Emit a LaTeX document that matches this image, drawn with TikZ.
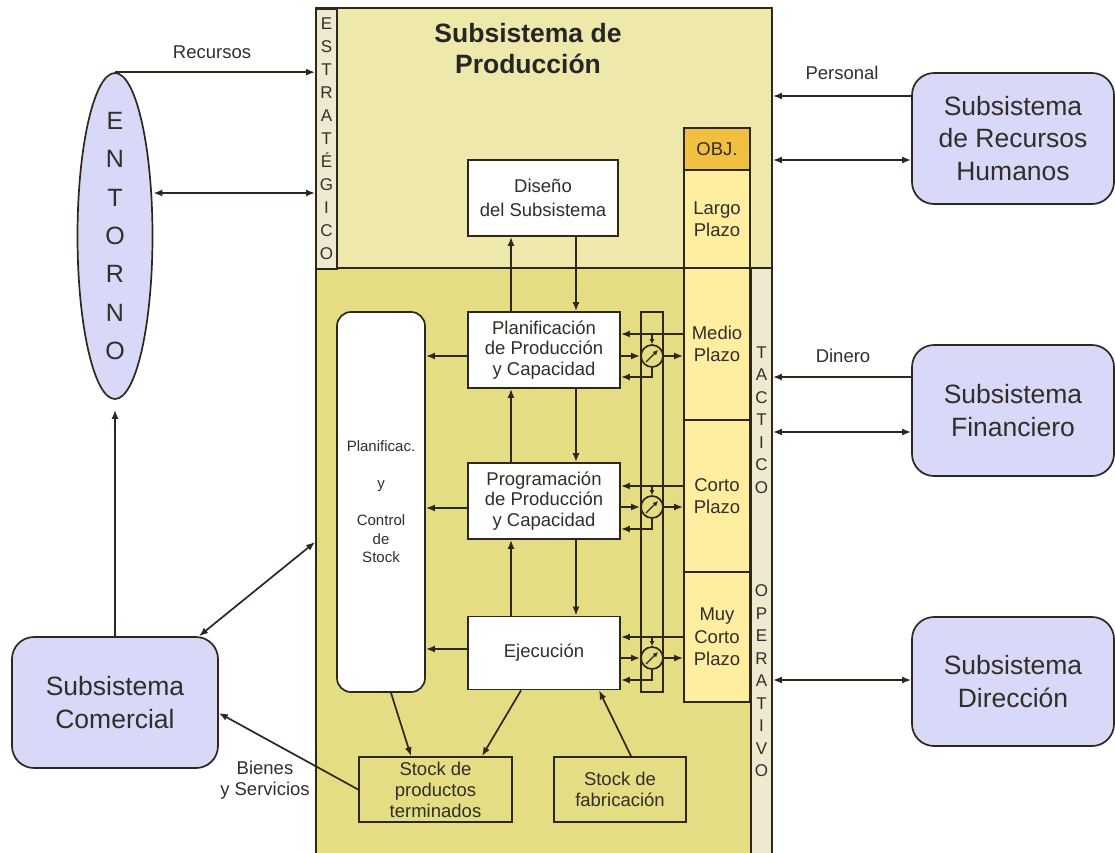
\documentclass[tikz,border=0pt]{standalone}
\usepackage{fontspec}
\setmainfont{Liberation Sans}
\usepackage{xcolor}
\usetikzlibrary{positioning, arrows.meta, shapes.geometric}

\definecolor{ink}{RGB}{45,40,28}
\definecolor{txt}{RGB}{50,46,40}
\definecolor{lav}{RGB}{216,216,248}
\definecolor{zonaalta}{RGB}{238,232,170}
\definecolor{zonabaja}{RGB}{229,221,131}
\definecolor{franja}{RGB}{238,234,210}
\definecolor{plazo}{RGB}{255,238,160}
\definecolor{objetivo}{RGB}{242,192,64}

\newcommand{\fmed}{\fontsize{18.5}{20.5}\selectfont}
\newcommand{\fplazo}{\fontsize{18.5}{22.5}\selectfont}
\newcommand{\fstock}{\fontsize{18.5}{21}\selectfont}
\newcommand{\fbig}{\fontsize{26.5}{32.5}\selectfont}
\newcommand{\fletra}{\fontsize{17}{23}\selectfont}
\newcommand{\fchico}{\fontsize{15}{18.5}\selectfont}
\newcommand{\ftitulo}{\fontsize{26.5}{31}\selectfont\bfseries}

\begin{document}
\begin{tikzpicture}[
  x=1pt, y=-1pt,
  > = {Latex[length=9pt, width=7pt]},
  line width=1.7pt,
  color=ink, text=txt,
  region/.style={draw, line width=1.8pt, inner sep=0pt},
  strip/.style={draw, fill=franja, minimum width=21, inner sep=0pt,
                align=center, font=\fletra},
  caja/.style={draw, fill=white, minimum width=152, minimum height=76,
               align=center, font=\fmed},
  stkbox/.style={draw, fill=white, rounded corners=14pt, minimum width=88,
                 minimum height=380, align=center, font=\fchico},
  plazobox/.style={draw, fill=plazo, minimum width=66, inner sep=0pt,
                   align=center, font=\fplazo},
  stockbox/.style={draw, minimum height=65, inner sep=2pt,
                   align=center, font=\fstock},
  subsis/.style={draw, fill=lav, rounded corners=22pt, minimum width=202,
                 minimum height=131, align=center, font=\fbig},
  meter/.style={draw, circle, fill=zonabaja, minimum size=22, inner sep=0pt},
  lbl/.style={font=\fmed, align=center},
  arr/.style={->},
  darr/.style={<->},
  tip/.style={-{Latex[length=5pt, width=5pt]}, line width=1.3pt}
]
  \useasboundingbox (0,0) rectangle (1115,852);

  % --- Subsistema de Produccion (zones and side strips) ---
  \node[region, fill=zonaalta, minimum width=456, minimum height=260] (sup) at (544,138) {};
  \node[region, fill=zonabaja, minimum width=456, minimum height=590] (low) at (544,563) {};
  \node[strip, minimum height=260] (est) at (326.5,139) {E\\S\\T\\R\\A\\T\\É\\G\\I\\C\\O};
  \node[strip, minimum height=590] (tac) at (761.5,563) {};
  \node[font=\fontsize{17}{22.5}\selectfont, align=center] (tactico) at (761.5,420) {T\\A\\C\\T\\I\\C\\O};
  \node[font=\fontsize{17}{22.5}\selectfont, align=center] (operativo) at (761.5,681) {O\\P\\E\\R\\A\\T\\I\\V\\O};
  \node[font=\ftitulo, align=center, text=black!85] (tit) at (528,49) {Subsistema de\\Producción};

  % --- horizon column ---
  \node[plazobox, fill=objetivo, minimum height=42] (obj) at (717,149) {OBJ.};
  \node[plazobox, minimum height=98] (largo) at (717,219) {Largo\\Plazo};
  \node[plazobox, minimum height=152] (medio) at (717,344) {Medio\\Plazo};
  \node[plazobox, minimum height=152] (corto) at (717,496) {Corto\\Plazo};
  \node[plazobox, minimum height=130] (muy) at (717,637) {Muy\\Corto\\Plazo};

  % --- inner blocks ---
  \node[caja, minimum width=150] (dis) at (543,198) {Diseño\\[3pt]del Subsistema};
  \node[caja] (pla) at (544,350) {Planificación\\de Producción\\y Capacidad};
  \node[caja] (prg) at (544,501) {Programación\\de Producción\\y Capacidad};
  \node[caja, minimum height=73] (eje) at (544,653) {Ejecución};
  \node[stkbox] (stk) at (381,502) {Planificac.\\[18.5pt]y\\[18.5pt]Control\\de\\Stock};
  \node[region, minimum width=22, minimum height=380] (ctl) at (652,502) {};
  \node[stockbox, minimum width=153] (spt) at (435.5,789.5) {Stock de\\productos\\terminados};
  \node[stockbox, minimum width=132] (sfb) at (620,789.5) {Stock de\\fabricación};

  % --- other subsystems ---
  \node[ellipse, draw, fill=lav, minimum width=75, minimum height=326, inner sep=0pt] (ent) at (115,236) {};
  \node[align=center, font=\fontsize{25}{38.3}\selectfont] (entl) at (ent.center) {E\\N\\T\\O\\R\\N\\O};
  \node[subsis, minimum width=206] (com) at (115,702.5) {Subsistema\\Comercial};
  \node[subsis] (rrh) at (1013,138.5) {Subsistema\\de Recursos\\Humanos};
  \node[subsis] (fin) at (1013,410.5) {Subsistema\\Financiero};
  \node[subsis, minimum height=129] (dir) at (1013,681.5) {Subsistema\\Dirección};

  % --- Entorno and Comercial links ---
  \draw[arr] (ent.north) -- (sup.west |- ent.north);
  \node[lbl] (lrec) at (212,52) {Recursos};
  \draw[darr] (ent.east |- 0,193) -- (sup.west |- 0,193);
  \draw[arr, shorten >=10pt] (com.north) -- (ent.south);
  \draw[darr] (com.north -| 199,0) -- (low.west |- 0,542);
  \draw[arr] (spt.west) -- (com.east |- 0,713);
  \node[lbl] (lbie) at (265,780) {Bienes\\y Servicios};

  % --- right side links ---
  \draw[arr] (rrh.west |- 0,96) -- (sup.east |- 0,96);
  \node[lbl] (lper) at (842,73) {Personal};
  \draw[darr] (rrh.west |- 0,160) -- (sup.east |- 0,160);
  \draw[arr] (fin.west |- 0,377) -- (tac.east |- 0,377);
  \node[lbl] (ldin) at (843,356) {Dinero};
  \draw[darr] (fin.west |- 0,432) -- (tac.east |- 0,432);
  \draw[darr] (dir.west |- 0,680) -- (tac.east |- 0,680);

  % --- vertical flow between blocks ---
  \coordinate (sube) at (511,0);
  \coordinate (baja) at (576,0);
  \draw[arr] (pla.north -| sube) -- (dis.south -| sube);
  \draw[arr] (dis.south -| baja) -- (pla.north -| baja);
  \draw[arr] (prg.north -| sube) -- (pla.south -| sube);
  \draw[arr] (pla.south -| baja) -- (prg.north -| baja);
  \draw[arr] (eje.north -| sube) -- (prg.south -| sube);
  \draw[arr] (prg.south -| baja) -- (eje.north -| baja);

  % --- blocks to stock control ---
  \draw[arr] (pla.west |- 0,356) -- (stk.east |- 0,356);
  \draw[arr] (prg.west |- 0,508) -- (stk.east |- 0,508);
  \draw[arr] (eje.west |- 0,649) -- (stk.east |- 0,649);

  % --- control loops with meters ---
  \node[meter] (m1) at (652,356) {};
  \node[meter] (m2) at (652,507) {};
  \node[meter] (m3) at (652,658) {};
  \draw[tip] ([shift={(-6,6)}]m1.center) -- ([shift={(6,-6)}]m1.center);
  \draw[tip] ([shift={(-6,6)}]m2.center) -- ([shift={(6,-6)}]m2.center);
  \draw[tip] ([shift={(-6,6)}]m3.center) -- ([shift={(6,-6)}]m3.center);

  \draw[arr] (medio.west |- 0,334) -- (pla.east |- 0,334);
  \draw[tip] (m1.north |- 0,334) -- (m1.north);
  \draw[arr] (pla.east |- m1) -- (m1.west);
  \draw[arr] (m1.east) -- (medio.west |- m1);
  \draw[arr] (m1.south) |- (pla.east |- 0,377);

  \draw[arr] (corto.west |- 0,486) -- (prg.east |- 0,486);
  \draw[tip] (m2.north |- 0,486) -- (m2.north);
  \draw[arr] (prg.east |- m2) -- (m2.west);
  \draw[arr] (m2.east) -- (corto.west |- m2);
  \draw[arr] (m2.south) |- (prg.east |- 0,529);

  \draw[arr] (muy.west |- 0,637) -- (eje.east |- 0,637);
  \draw[tip] (m3.north |- 0,637) -- (m3.north);
  \draw[arr] (eje.east |- m3) -- (m3.west);
  \draw[arr] (m3.east) -- (muy.west |- m3);
  \draw[arr] (m3.south) |- (eje.east |- 0,680);

  % --- stocks ---
  \draw[arr] (stk.south -| 391,0) -- (spt.north -| 411,0);
  \draw[arr] (eje.south -| 521,0) -- (spt.north -| 482,0);
  \draw[arr] (sfb.north -| 631,0) -- (eje.south -| 599,0);
\end{tikzpicture}
\end{document}
